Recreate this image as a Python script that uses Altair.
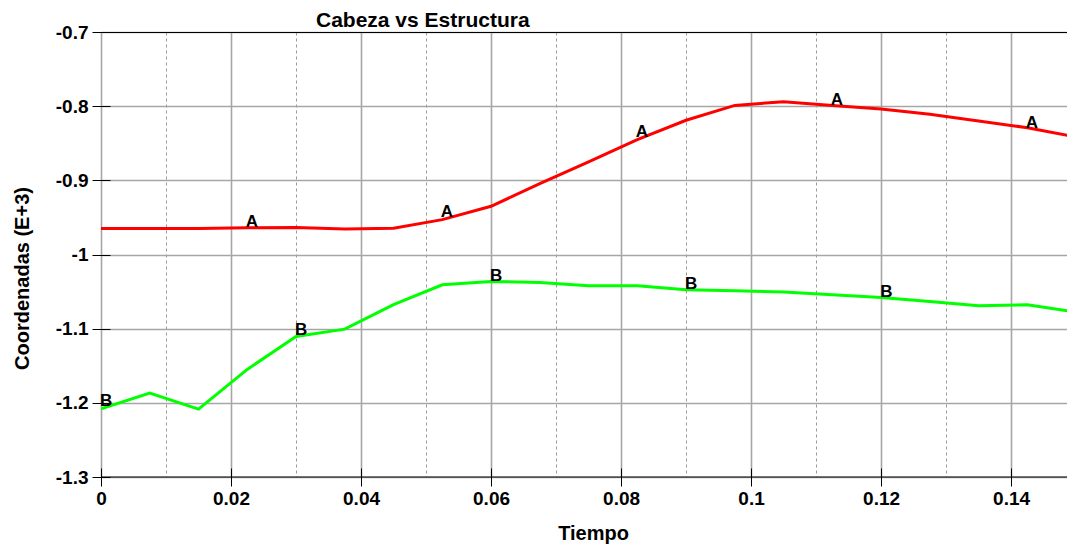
import altair as alt
import pandas as pd
import numpy as np

tiempo = [0.0, 0.0075, 0.015, 0.0225, 0.03, 0.0375, 0.045, 0.0525, 0.06, 0.0675,
          0.075, 0.0825, 0.09, 0.0975, 0.105, 0.1125, 0.12, 0.1275, 0.135, 0.1425, 0.15]
serie_a = [-0.965, -0.965, -0.965, -0.964, -0.9635, -0.9655, -0.9645, -0.953, -0.935, -0.9045,
           -0.875, -0.845, -0.819, -0.799, -0.794, -0.799, -0.8037, -0.811, -0.820, -0.829, -0.8415]
serie_b = [-1.208, -1.187, -1.2085, -1.155, -1.1105, -1.1006, -1.0677, -1.0408, -1.0363, -1.0376,
           -1.042, -1.042, -1.0475, -1.0489, -1.0506, -1.0543, -1.058, -1.0633, -1.069, -1.0677, -1.0776]
etiqueta_a_t = [0.0232, 0.0532, 0.0832, 0.1132, 0.1432]
etiqueta_b_t = [0.0008, 0.0308, 0.0608, 0.0908, 0.1208]
x_ticks = [0.0, 0.01, 0.02, 0.03, 0.04, 0.05, 0.06, 0.07, 0.08, 0.09, 0.10, 0.11, 0.12, 0.13, 0.14]
y_ticks = [-1.3, -1.25, -1.2, -1.15, -1.1, -1.05, -1.0, -0.95, -0.9, -0.85, -0.8, -0.75, -0.7]
titulo = ["Cabeza vs Estructura"]

# visible part of the time axis (the original plot runs to 0.15, the right edge is cropped by the window)
X_MAX_VISIBLE = 0.1486
W, H = 966, 445
FONT = "Liberation Sans"

lines_df = pd.DataFrame({
    "t": tiempo + tiempo,
    "v": serie_a + serie_b,
    "s": ["A"] * len(tiempo) + ["B"] * len(tiempo),
})
labels_df = pd.DataFrame({
    "t": etiqueta_a_t + etiqueta_b_t,
    "v": list(np.interp(etiqueta_a_t, tiempo, serie_a)) + list(np.interp(etiqueta_b_t, tiempo, serie_b)),
    "s": ["A"] * len(etiqueta_a_t) + ["B"] * len(etiqueta_b_t),
})
title_df = pd.DataFrame({"txt": titulo})

minor_x = "round(datum.value*100) % 2 != 0"
minor_y = "round(datum.value*100) % 10 != 0"

x_axis = alt.Axis(
    values=x_ticks, title="Tiempo", offset=-9, tickSize=18, domain=False,
    grid=True, labelFlush=False, labelOverlap=False,
    gridColor={"condition": {"test": minor_x, "value": "#999999"}, "value": "#a6a6a6"},
    gridWidth={"condition": {"test": minor_x, "value": 1}, "value": 1.6},
    gridDash={"condition": {"test": minor_x, "value": [3, 3]}, "value": []},
    tickOpacity={"condition": {"test": minor_x, "value": 0}, "value": 1},
    labelExpr="round(datum.value*100) % 2 == 0 ? format(datum.value, '~g') : ''",
    tickColor="#000000", labelColor="#000000", labelFont=FONT, labelFontSize=19,
    labelFontWeight="bold", labelPadding=3,
    titleFont=FONT, titleFontSize=20, titleFontWeight="bold", titleColor="#000000",
    titleX=492, titleY=71, titleBaseline="alphabetic", titleAlign="center",
)
y_axis = alt.Axis(
    values=y_ticks, title="Coordenadas (E+3)", offset=-9, tickSize=18, domain=False,
    grid=True, labelOverlap=False,
    gridColor={"condition": {"test": minor_y, "value": "#999999"}, "value": "#a6a6a6"},
    gridWidth={"condition": {"test": minor_y, "value": 1}, "value": 1.6},
    gridDash={"condition": {"test": minor_y, "value": [3, 3]}, "value": []},
    tickOpacity={"condition": {"test": minor_y, "value": 0}, "value": 1},
    labelExpr="round(datum.value*100) % 10 == 0 ? (datum.value < 0 ? '-' : '') + format(abs(datum.value), '~g') : ''",
    tickColor="#000000", labelColor="#000000", labelFont=FONT, labelFontSize=19,
    labelFontWeight="bold", labelPadding=4,
    titleFont=FONT, titleFontSize=20, titleFontWeight="bold", titleColor="#000000",
    titleX=-82, titleY=246, titleBaseline="alphabetic", titleAlign="center", titleAngle=270,
)

x_enc = alt.X("t:Q", scale=alt.Scale(domain=[0, X_MAX_VISIBLE], nice=False, zero=False), axis=x_axis)
y_enc = alt.Y("v:Q", scale=alt.Scale(domain=[-1.3, -0.7], nice=False, zero=False), axis=y_axis)

lines = alt.Chart(lines_df).mark_line(strokeWidth=3, clip=True).encode(
    x=x_enc, y=y_enc,
    color=alt.Color("s:N", scale=alt.Scale(domain=["A", "B"], range=["#ff0000", "#00ff00"]), legend=None),
)
labels = alt.Chart(labels_df).mark_text(
    font=FONT, fontSize=17, fontWeight="bold", baseline="alphabetic", dy=-1, color="#000000"
).encode(x="t:Q", y="v:Q", text="s:N")

top_border = alt.Chart(title_df).mark_rule(color="#000000", strokeWidth=1).encode(
    x=alt.value(0), x2=alt.value(W), y=alt.value(0.5))
bottom_border = alt.Chart(title_df).mark_rule(color="#000000", strokeWidth=1).encode(
    x=alt.value(0), x2=alt.value(W), y=alt.value(H))
title = alt.Chart(title_df).mark_text(
    font=FONT, fontSize=21, fontWeight="bold", align="left", baseline="alphabetic", color="#000000"
).encode(text="txt:N", x=alt.value(215), y=alt.value(-5))

chart = alt.layer(lines, labels, top_border, bottom_border, title).properties(
    width=W, height=H,
    padding={"left": 93, "top": 24, "right": 0, "bottom": 67},
    autosize=alt.AutoSizeParams(type="none"),
).configure_view(stroke=None).configure(background="white")

chart.save("out.html", embed_options={"renderer": "svg", "actions": False})
